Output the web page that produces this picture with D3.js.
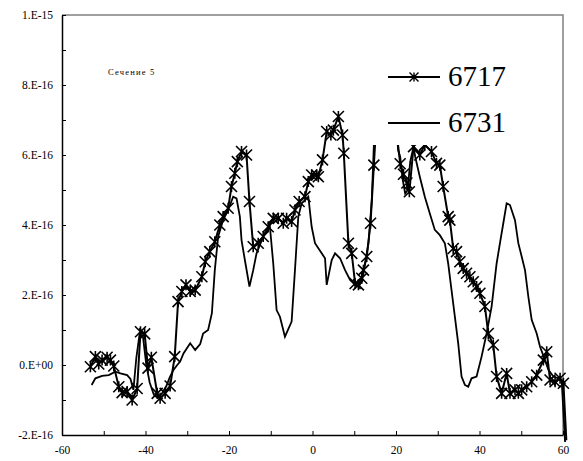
<!DOCTYPE html>
<html>
<head>
<meta charset="utf-8">
<script src="https://cdn.jsdelivr.net/npm/d3@7"></script>
<style>
  body { margin: 0; background: #fff; }
  text { font-family: "Liberation Serif", "Times New Roman", serif; }
</style>
</head>
<body>
<div class="chart"></div>
<script>
// values in units of 1e-16
const x6717 = [-53.2, -52.0, -51.2, -50.4, -49.2, -48.4, -47.6, -46.4, -45.6, -44.4, -43.2, -42.0, -41.2, -40.2, -39.4, -38.6,
  -37.2, -36.5, -35.3, -34.1, -33.0, -32.2, -31.3, -30.3, -29.3, -28.1, -26.5, -25.7, -24.6, -23.4, -22.2, -21.4,
  -20.2, -19.4, -18.6, -18.0, -17.0, -15.8, -15.1, -14.2, -13.0, -11.8, -10.6, -9.4, -8.2, -7.0, -6.2, -5.0,
  -4.2, -3.2, -1.8, -1.0, -0.2, 1.0, 1.4, 2.4, 3.4, 4.4, 5.0, 6.2, 7.2, 7.5, 8.6, 9.4, 10.2, 11.0, 11.8, 12.2,
  13.0, 13.9, 14.7, 15.6, 17.0, 18.5, 20.0, 21.0, 21.8, 22.6, 23.2, 24.2, 25.7, 26.9, 28.5, 29.7, 30.5, 31.3,
  32.5, 32.9, 33.7, 34.5, 35.3, 36.1, 36.9, 37.7, 38.5, 39.3, 40.1, 41.3, 42.1, 43.3, 44.1, 45.3, 46.5, 47.3,
  48.5, 49.3, 50.1, 51.3, 52.5, 53.7, 55.3, 56.1, 56.9, 58.1, 59.3, 60.1, 60.8];
const y6717 = [-0.05, 0.24, 0.03, 0.14, 0.22, 0.14, -0.03, -0.62, -0.79, -0.76, -1.0, -0.67, 0.95, 0.89, -0.09, 0.22,
  -0.81, -0.95, -0.81, -0.6, 0.24, 1.81, 2.1, 2.29, 2.1, 2.14, 2.52, 2.95, 3.24, 3.52, 4.0, 4.24,
  4.48, 5.1, 5.48, 5.81, 6.1, 6.0, 4.67, 3.38, 3.48, 3.67, 3.95, 4.19, 4.19, 4.05, 4.19, 4.1,
  4.43, 4.67, 4.81, 5.24, 5.43, 5.43, 5.38, 5.86, 6.67, 6.57, 6.71, 7.1, 6.57, 6.05, 3.48, 3.19, 2.33, 2.29, 2.48, 2.71,
  3.1, 4.05, 5.71, 7.6, 8.2, 7.8, 6.8, 5.75, 5.45, 5.2, 4.95, 6.24, 6.0, 6.29, 6.1, 5.76, 5.71, 5.1,
  4.24, 4.14, 3.33, 3.24, 2.95, 2.76, 2.62, 2.52, 2.38, 2.24, 2.05, 1.67, 0.9, 0.57, -0.33, -0.81, -0.24, -0.81,
  -0.71, -0.81, -0.71, -0.62, -0.48, -0.29, 0.14, 0.38, -0.43, -0.48, -0.38, -0.52, -2.15];

const x6731 = [-52.9, -52.0, -50.4, -48.8, -47.2, -46.0, -44.4, -43.6, -42.9, -42.2, -41.4, -40.6, -39.8, -39.0, -38.0,
  -37.0, -36.0, -35.0, -34.2, -33.3, -32.4, -31.7, -30.9, -29.3, -28.1, -26.9, -26.2, -25.0, -24.1, -23.4, -22.6,
  -21.4, -20.2, -19.0, -18.2, -17.4, -17.0, -16.2, -15.1, -14.2, -13.4, -11.8, -10.2, -9.4, -8.6, -7.8, -6.6,
  -5.0, -4.2, -3.4, -2.6, -1.8, -1.0, -0.2, 0.6, 2.2, 3.0, 3.4, 4.6, 5.4, 6.6, 7.8, 9.0, 10.2, 11.0, 11.8,
  12.6, 13.4, 14.2, 14.7, 15.5, 17.0, 18.5, 20.0, 20.5, 21.0, 21.6, 22.2, 22.8, 23.4, 24.2, 24.6, 25.7, 26.9,
  28.1, 29.3, 30.5, 31.7, 32.5, 33.3, 34.1, 34.9, 35.7, 36.5, 37.3, 38.1, 39.3, 40.5, 41.7, 42.9, 44.1, 44.9,
  45.7, 46.5, 47.3, 48.5, 49.3, 50.1, 50.9, 51.7, 52.5, 53.7, 54.5, 55.7, 56.5, 57.7, 58.9, 59.7, 60.5];
const y6731 = [-0.57, -0.38, -0.31, -0.29, -0.19, -0.24, -0.29, -0.4, -0.71, 0.2, 0.9, 0.8, 0.0, -0.5, -0.85,
  -0.95, -0.8, -0.6, -0.35, -0.14, 0.0, 0.1, 0.33, 0.62, 0.43, 0.6, 0.9, 1.0, 1.48, 2.71, 3.67,
  4.14, 4.43, 4.81, 4.76, 4.24, 3.57, 3.0, 2.24, 2.71, 3.19, 3.67, 3.95, 2.9, 1.57, 1.38, 0.81,
  1.24, 2.71, 4.24, 4.62, 4.71, 4.81, 3.95, 3.48, 3.19, 3.05, 2.29, 3.0, 3.19, 3.05, 2.71, 2.43, 2.29, 2.24, 2.38,
  2.9, 3.48, 4.71, 6.29, 8.0, 8.5, 8.0, 7.0, 6.14, 5.95, 5.3, 4.9, 5.0, 5.8, 6.24, 5.95, 5.38, 4.81,
  4.33, 3.86, 3.71, 3.48, 2.9, 2.14, 1.38, 0.62, -0.33, -0.57, -0.62, -0.38, -0.33, 0.24, 0.9, 1.67, 2.9, 3.48,
  4.05, 4.62, 4.57, 4.14, 3.48, 3.1, 2.71, 1.95, 1.29, 0.9, 0.52, 0.14, -0.14, -0.33, -0.38, -0.48, -2.2];

const xTicks = [-60, -40, -20, 0, 20, 40, 60];
const yTicks = [-2e-16, 0, 2e-16, 4e-16, 6e-16, 8e-16, 1e-15];
const yTickLabels = ["-2.E-16", "0.E+00", "2.E-16", "4.E-16", "6.E-16", "8.E-16", "1.E-15"];
const seriesNames = ["6717", "6731"];
const title = "Сечение 5";

const margin = ({ left: 62, right: 20, top: 15, bottom: 26 });
const width = 583 - margin.left - margin.right,
    height = 461 - margin.top - margin.bottom;

const svg = d3.select(".chart").append("svg")
    .attr("width", 583)
    .attr("height", 461);

const g = svg.append("g")
    .attr("transform", `translate(${margin.left},${margin.top})`);

const xScale = d3.scaleLinear().domain([-60, 60]).range([0, width]);
const yScale = d3.scaleLinear().domain([-2e-16, 1e-15]).range([height, 0]);

// frame top/right
g.append("path")
    .attr("d", `M0,0H${width}V${height}`)
    .attr("fill", "none")
    .attr("stroke", "#808080")
    .attr("stroke-width", 1.5);

const xAxis = d3.axisBottom(xScale)
    .tickValues(d3.range(-60, 61, 10))
    .tickSizeInner(-4).tickSizeOuter(0)
    .tickPadding(11)
    .tickFormat(d => xTicks.includes(d) ? d : "");

const yAxis = d3.axisLeft(yScale)
    .tickValues(d3.range(-2, 11, 1).map(d => d * 1e-16))
    .tickSizeInner(-4).tickSizeOuter(0)
    .tickPadding(9)
    .tickFormat(d => {
        const k = yTicks.findIndex(t => Math.abs(t - d) < 1e-20);
        return k >= 0 ? yTickLabels[k] : "";
    });

g.append("g")
    .attr("transform", `translate(0,${height})`)
    .call(xAxis)
    .call(a => a.select(".domain").attr("stroke-width", 1.5))
    .call(a => a.selectAll("text").attr("font-size", 11.5).attr("fill", "#000")
        .attr("font-family", "Liberation Serif"));

g.append("g")
    .call(yAxis)
    .call(a => a.select(".domain").attr("stroke-width", 1.5))
    .call(a => a.selectAll("text").attr("font-size", 11.5).attr("fill", "#000")
        .attr("font-family", "Liberation Serif"));

const line = d3.line()
    .x(d => xScale(d[0]))
    .y(d => yScale(d[1] * 1e-16));

const d6717 = x6717.map((x, i) => [x, y6717[i]]);
const d6731 = x6731.map((x, i) => [x, y6731[i]]);

g.append("path")
    .datum(d6731)
    .attr("fill", "none")
    .attr("stroke", "black")
    .attr("stroke-width", 1.8)
    .attr("d", line);

g.append("path")
    .datum(d6717)
    .attr("fill", "none")
    .attr("stroke", "black")
    .attr("stroke-width", 2)
    .attr("d", line);

const star = s => `M${-s},${-s}L${s},${s}M${-s},${s}L${s},${-s}M0,${-s}L0,${s}`;

// last point falls below the axis, Excel leaves no marker there
g.append("g")
    .selectAll("path")
    .data(d6717.filter(d => d[1] >= -2))
    .enter()
    .append("path")
    .attr("transform", d => `translate(${xScale(d[0])},${yScale(d[1] * 1e-16)})`)
    .attr("d", star(5.5))
    .attr("fill", "none")
    .attr("stroke", "black")
    .attr("stroke-width", 1.6);

// legend box hides the lines behind it
const lg = svg.append("g");
lg.append("rect")
    .attr("x", 368).attr("y", 48)
    .attr("width", 190).attr("height", 97)
    .attr("fill", "white");

seriesNames.forEach((name, i) => {
    const yy = 77 + i * 46;
    lg.append("line")
        .attr("x1", 388).attr("x2", 440)
        .attr("y1", yy).attr("y2", yy)
        .attr("stroke", "black")
        .attr("stroke-width", 2);
    if (i === 0) {
        lg.append("path")
            .attr("transform", `translate(414,${yy})`)
            .attr("d", star(4.5))
            .attr("fill", "none")
            .attr("stroke", "black")
            .attr("stroke-width", 1.4);
    }
    lg.append("text")
        .attr("x", 448)
        .attr("y", yy + 9)
        .attr("font-size", 29)
        .text(name);
});

svg.append("text")
    .attr("x", 108)
    .attr("y", 75)
    .attr("font-size", 8.5)
    .attr("letter-spacing", 1.2)
    .text(title);
</script>
</body>
</html>
